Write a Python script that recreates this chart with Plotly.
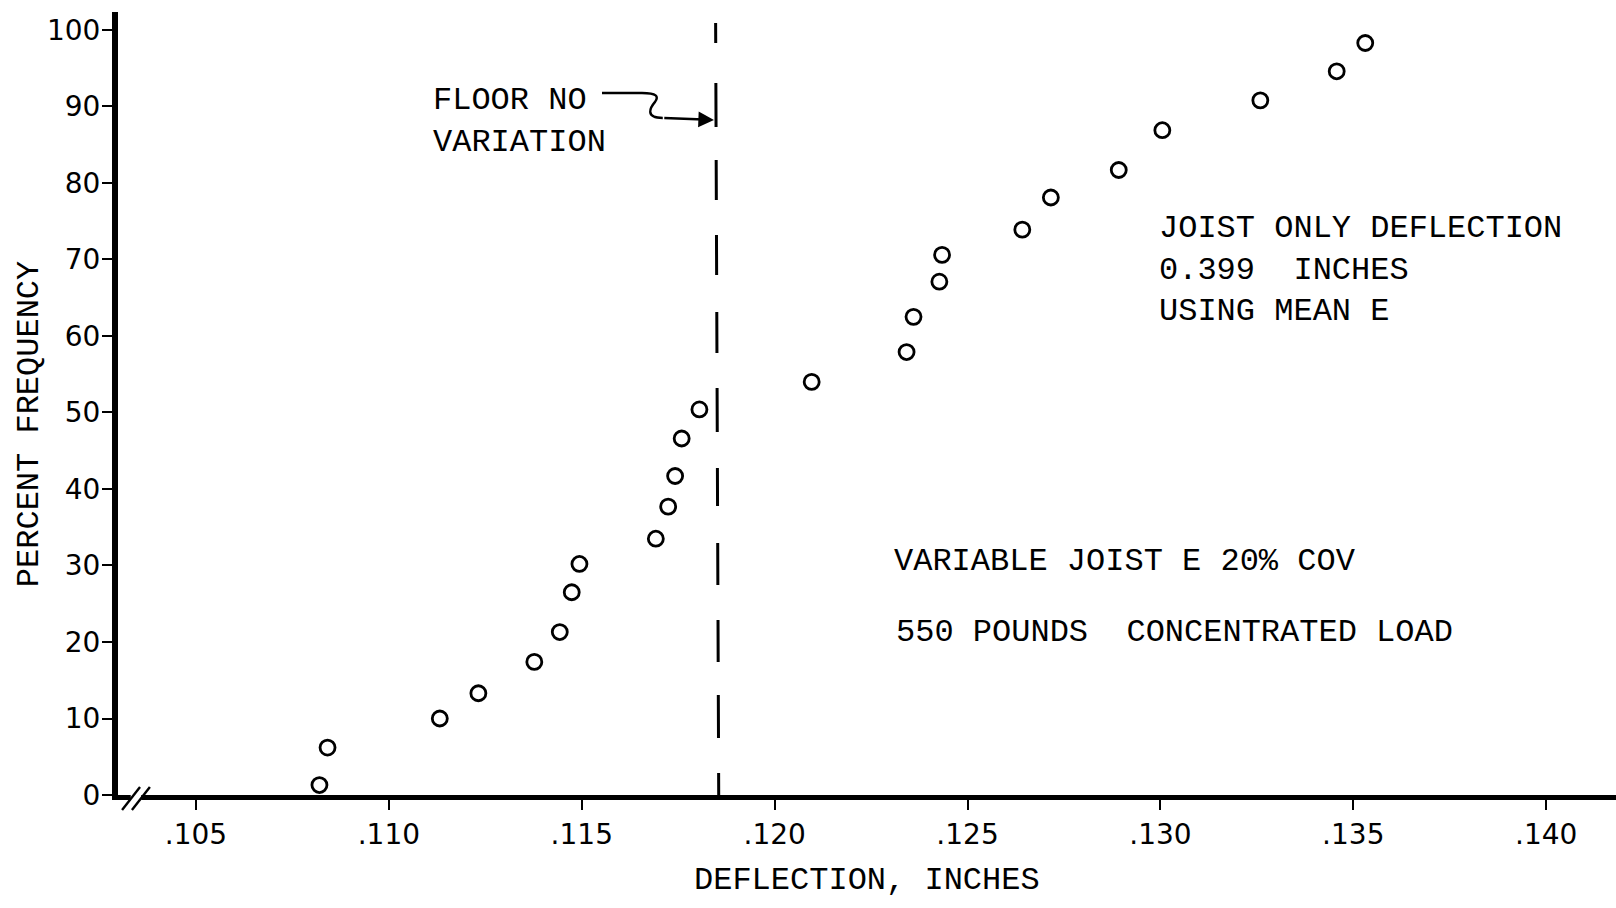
import plotly.graph_objects as go

# ---- data ----
deflection = [0.10820, 0.10841, 0.11132, 0.11232, 0.11377, 0.11443, 0.11474, 0.11494,
              0.11692, 0.11724, 0.11742, 0.11759, 0.11805, 0.12096, 0.12342, 0.12360,
              0.12427, 0.12434, 0.12642, 0.12716, 0.12892, 0.13005, 0.13259, 0.13457,
              0.13531]
percent = [1.3, 6.2, 10.0, 13.3, 17.4, 21.3, 26.5, 30.2,
           33.5, 37.7, 41.7, 46.6, 50.4, 54.0, 57.9, 62.5,
           67.1, 70.6, 73.9, 78.1, 81.7, 86.9, 90.8, 94.6,
           98.3]
floor_no_variation = 0.1185
x_tick_vals = [0.105, 0.110, 0.115, 0.120, 0.125, 0.130, 0.135, 0.140]
x_tick_text = [".105", ".110", ".115", ".120", ".125", ".130", ".135", ".140"]
y_tick_vals = [0, 10, 20, 30, 40, 50, 60, 70, 80, 90, 100]
y_tick_text = ["0", "10", "20", "30", "40", "50", "60", "70", "80", "90", "100"]

TYPE = "Liberation Mono"
TICKFONT = "DejaVu Sans"
NB = "\u00a0"

fig = go.Figure()
fig.add_trace(go.Scatter(
    x=deflection, y=percent, mode="markers",
    marker=dict(symbol="circle-open", size=15, color="black",
                line=dict(width=2.8, color="black")),
    cliponaxis=False, showlegend=False, hoverinfo="x+y"))

dash_pattern = ("20px,40px,44px,33px,40px,35px,40px,37px,41px,35px,44px,36px,"
                "38px,37px,42px,35px,42px,33px,43px,35px,30px")

shapes = [
    # dashed "floor no variation" line
    dict(type="line", xref="x", yref="y", x0=floor_no_variation - 0.00003, y0=100.9,
         x1=floor_no_variation + 0.00005, y1=0,
         line=dict(color="black", width=3, dash=dash_pattern), layer="above"),
    # squiggle leading to the arrow
    dict(type="path", xref="x", yref="y",
         path=("M 0.115524 91.76 L 0.116560 91.76 "
               "C 0.116950 91.76 0.117000 91.30 0.116900 90.60 "
               "C 0.116780 89.90 0.116620 88.50 0.117100 88.50"),
         line=dict(color="black", width=2.4)),
    # axis break
    dict(type="rect", xref="paper", yref="paper", x0=0.0085, x1=0.0155, y0=-0.009, y1=0.007,
         fillcolor="white", line=dict(width=0), layer="above"),
    dict(type="line", xref="paper", yref="paper", x0=0.0027, y0=-0.0192, x1=0.0147, y1=0.0102,
         line=dict(color="black", width=2.4), layer="above"),
    dict(type="line", xref="paper", yref="paper", x0=0.0093, y0=-0.0192, x1=0.0213, y1=0.0102,
         line=dict(color="black", width=2.4), layer="above"),
]

afont = dict(family=TYPE, size=32, color="black")
annotations = [
    dict(x=0.118427, y=88.24, ax=0.117100, ay=88.50, xref="x", yref="y", axref="x", ayref="y",
         text="", showarrow=True, arrowhead=2, arrowsize=1.3, arrowwidth=2.4, arrowcolor="black"),
    dict(x=0.11109, y=88.1, text="FLOOR NO<br>VARIATION", xanchor="left", yanchor="middle",
         align="left"),
    dict(x=0.12992, y=68.6,
         text="JOIST ONLY DEFLECTION<br>0.399" + NB * 2 + "INCHES<br>USING MEAN E",
         xanchor="left", yanchor="middle", align="left"),
    dict(x=0.12304, y=30.5, text="VARIABLE JOIST E 20% COV", xanchor="left", yanchor="middle"),
    dict(x=0.12309, y=21.2, text="550 POUNDS" + NB * 2 + "CONCENTRATED LOAD",
         xanchor="left", yanchor="middle"),
    dict(xref="paper", yref="paper", x=-0.0593, y=0.4738, text="PERCENT FREQUENCY",
         textangle=-90, xanchor="center", yanchor="middle"),
    dict(xref="paper", yref="paper", x=0.5003, y=-0.1098, text="DEFLECTION, INCHES",
         xanchor="center", yanchor="middle"),
]
for a in annotations:
    a.setdefault("xref", "x")
    a.setdefault("yref", "y")
    a.setdefault("showarrow", False)
    a["font"] = afont

fig.update_layout(
    width=1616, height=908,
    margin=dict(l=118, r=0, t=12, b=113),
    paper_bgcolor="white", plot_bgcolor="white",
    shapes=shapes, annotations=annotations,
    showlegend=False,
    xaxis=dict(range=[0.102978, 0.14181], showgrid=False, zeroline=False,
               showline=True, linecolor="black", linewidth=5,
               ticks="outside", ticklen=10, tickwidth=2, tickcolor="black",
               tickvals=x_tick_vals, ticktext=x_tick_text,
               tickfont=dict(family=TICKFONT, size=28, color="black")),
    yaxis=dict(range=[0, 102.35], showgrid=False, zeroline=False,
               showline=True, linecolor="black", linewidth=6,
               ticks="outside", ticklen=10, tickwidth=2, tickcolor="black",
               ticklabelstandoff=-4,
               tickvals=y_tick_vals, ticktext=y_tick_text,
               tickfont=dict(family=TICKFONT, size=28, color="black")),
)

fig.write_html("out.html")
